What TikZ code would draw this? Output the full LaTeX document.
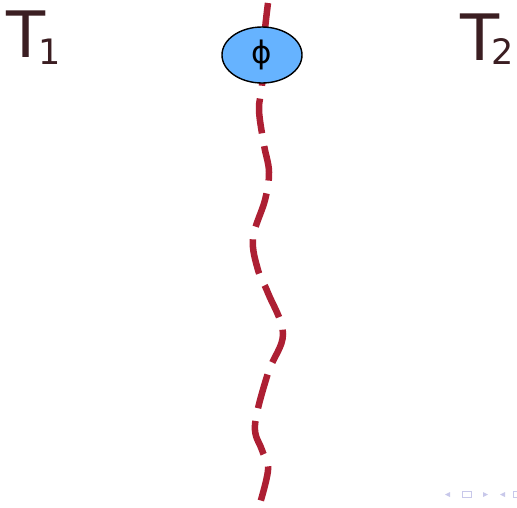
\documentclass[tikz,border=0pt]{standalone}
\usepackage{fontspec}
\newfontfamily\dejavu{DejaVu Sans}
\usetikzlibrary{shapes.geometric,positioning}
\definecolor{tempcol}{HTML}{3B1E22}
\definecolor{wavecol}{HTML}{AD1F33}
\definecolor{fieldcol}{HTML}{66B3FF}
\definecolor{navcol}{HTML}{C8C8EA}
\newcommand{\subfont}{\dejavu\fontsize{35}{35}\selectfont}

\begin{document}
\begin{tikzpicture}[
		x=1pt,
		y=-1pt,
		label node/.style={inner sep=0pt,anchor=base west,text=tempcol,font=\dejavu\fontsize{64}{64}\selectfont},
		field node/.style={ellipse,draw=black,line width=1.4pt,fill=fieldcol,minimum width=80pt,minimum height=56pt,inner sep=0pt,font=\dejavu\fontsize{31}{31}\selectfont},
		wave/.style={draw=wavecol,line width=6.5pt,dash pattern=on 35pt off 13pt},
		nav/.style={fill=navcol,draw=none}]

	\useasboundingbox (0,0) rectangle (517,507);

	% the wavy line runs behind the field
	\draw[wave] plot[smooth,tension=0.6] coordinates {(268,3) (264,40) (262,85) (259,110) (264,145) (269,172) (265,200) (253,238) (258,270) (268,293) (283,334) (268,373) (255,425) (262,450) (268,470) (258,510)};

	\node[field node] (phi) at (262,55) {ϕ};

	\node[label node] (t1) at (6,57) {T\kern-7pt\raisebox{-7pt}{\subfont 1}};
	\node[label node] (t2) at (460,60) {T\kern-8pt\raisebox{-4pt}{\subfont 2}};

	% navigation symbols
	\fill[nav] (450,492) -- (450,497) -- (445,494.5) -- cycle;
	\draw[navcol,line width=1pt] (462,491.5) rectangle (471,497);
	\fill[nav] (483,492) -- (483,497) -- (488,494.5) -- cycle;
	\fill[nav] (505,492) -- (505,497) -- (500,494.5) -- cycle;
	\draw[navcol,line width=1pt] (513,491.5) rectangle (519,497);
\end{tikzpicture}
\end{document}
